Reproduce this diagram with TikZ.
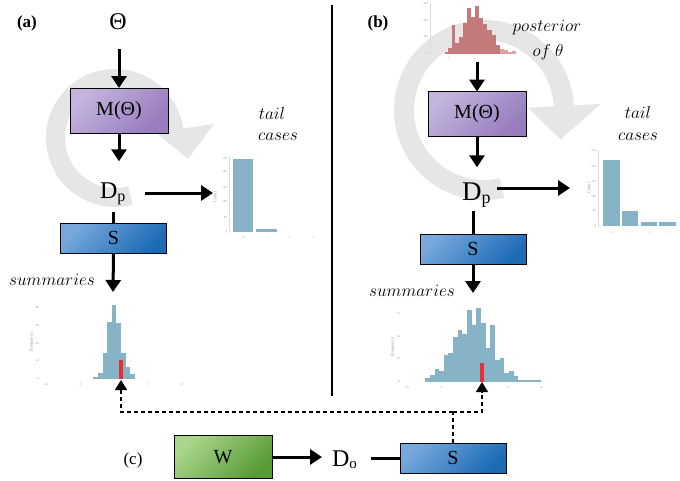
\documentclass[tikz,border=0pt]{standalone}
\usepackage{fontspec}
\setmainfont{Liberation Serif}
\usetikzlibrary{arrows.meta}
\definecolor{mlight}{HTML}{C4B4DE}
\definecolor{mdark}{HTML}{987CBD}
\definecolor{slight}{HTML}{78A8DC}
\definecolor{sdark}{HTML}{1C6BB5}
\definecolor{wlight}{HTML}{AAD58D}
\definecolor{wdark}{HTML}{579C35}
\definecolor{barblue}{HTML}{86B4C6}
\definecolor{redbar}{HTML}{E8303A}
\definecolor{ringgray}{HTML}{E6E6E6}
\definecolor{postdark}{HTML}{C47A7A}
\definecolor{postlight}{HTML}{DCA2A2}
\definecolor{ticklab}{HTML}{999999}
\definecolor{axisgray}{HTML}{DDDDDD}
\begin{document}
\begin{tikzpicture}[x=1pt,y=-1pt,
  box/.style={draw=black,line width=0.9pt,inner sep=0pt,outer sep=0pt},
  mbox/.style={box,top color=mlight,bottom color=mdark,shading angle=45,minimum width=98pt,minimum height=45pt,font=\fontsize{20}{20}\selectfont},
  sbox/.style={box,top color=slight,bottom color=sdark,shading angle=45,minimum width=106pt,minimum height=30pt,font=\fontsize{20}{20}\selectfont},
  wbox/.style={box,top color=wlight,bottom color=wdark,shading angle=45,minimum width=98pt,minimum height=43pt,font=\fontsize{20}{20}\selectfont},
  arr/.style={line width=3pt,-{Triangle[width=15pt,length=12pt]}},
  plainline/.style={line width=3pt},
  dsh/.style={line width=1.6pt,dash pattern=on 4pt off 3pt},
  dtip/.style={-{Triangle[width=12pt,length=10pt]}},
  lbl/.style={inner sep=0pt,font=\fontsize{17}{17}\selectfont\bfseries},
  clbl/.style={inner sep=0pt,font=\fontsize{17}{17}\selectfont},
  mlab/.style={inner sep=0pt,font=\fontsize{17}{17}\selectfont},
  txt/.style={inner sep=0pt,outer sep=0pt},
  tk/.style={inner sep=0pt,text=ticklab,font=\fontsize{3}{3}\selectfont},
  tkl/.style={inner sep=0pt,text=ticklab,font=\fontsize{4.5}{4.5}\selectfont,rotate=90},
]
\useasboundingbox (0,0) rectangle (680,480);

% ---------- grey cycle arrows ----------
\begin{scope}[shift={(115,138)},y=1pt]
\fill[ringgray] (285:69) arc[start angle=285,end angle=8,radius=69] -- (8:100) -- (-16:76) -- (8:41) -- (8:50) arc[start angle=8,end angle=285,radius=50] -- cycle;
\end{scope}
\begin{scope}[shift={(484,110)},y=1pt]
\fill[ringgray] (283:90) arc[start angle=283,end angle=3,radius=90] -- (3:117) -- (-21:82) -- (3:44) -- (3:70) arc[start angle=3,end angle=283,radius=70] -- cycle;
\end{scope}

% ---------- separator ----------
\coordinate (sepT) at (332,5);
\coordinate (sepB) at (332,396);
\draw[line width=1.3pt] (sepT) -- (sepB);

% ---------- (a) ----------
\node[lbl] (la) at (27,23) {(a)};
\node[txt,font=\fontsize{24}{24}\selectfont] (tha) at (118,22) {Θ};
\node[mbox] (ma) at (119,110.5) {M(Θ)};
\node[txt,anchor=base west,font=\fontsize{24}{24}\selectfont] (dpa) at (100,198) {D\raisebox{-3pt}{\fontsize{16}{16}\selectfont p}};
\node[sbox] (sa) at (113.5,238) {S};
\coordinate (tla) at (213,193);
\coordinate (suma) at (113,292);
\draw[arr,shorten <=19pt] (tha.south -| ma.north) -- (ma.north);
\draw[arr,shorten >=21pt] (ma.south) -- (ma.south |- dpa.north);
\draw[arr] (dpa.east |- tla) ++(20,0) -- (tla);
\draw[plainline,shorten <=8pt] (dpa.south -| sa.north) -- (sa.north);
\draw[arr] (sa.south) -- (suma);
\node[mlab] (suml) at (52,280) {$summaries$};
\node[mlab] (taila) at (272,113) {$tail$};
\node[mlab] (casea) at (278,137) {$cases$};

% tail histogram (a)
\draw[axisgray,line width=0.3pt] (229,157) -- (229,233);
\foreach \v/\yy in {0/232,50/218,100/202,150/188,200/172,250/159}
  \node[tk,anchor=east] at (227,\yy) {\v};
\node[tkl] (cnta) at (215,197) {Count};
\foreach \v/\xx in {0/243,1/267,2/289,3/313}
  \node[tk] at (\xx,238) {\v};
\fill[barblue] (233,159) rectangle (253,232);
\fill[barblue] (256,229) rectangle (277,232);

% summary histogram (a)
\foreach \a/\b/\t in {93/98/377,98/103/373,103/107/353,107/112/322,112/116/305,116/121/323,121/126/353,126/130/367,130/135/374}
  \fill[barblue] (\a,\t) rectangle (\b,379);
\fill[redbar] (119,360) rectangle (123,379);
\foreach \v/\yy in {0/379,20/361,40/344,60/326,80/308}
  \node[tk,anchor=east] at (39,\yy) {\v};
\node[tkl] (freqa) at (32,342) {Frequency};
\foreach \v/\xx in {-10/46,-5/80,0/114,5/148,10/181}
  \node[tk] at (\xx,385) {\v};

% ---------- (b) ----------
\node[lbl] (lb) at (378,23) {(b)};
% posterior histogram
\draw[axisgray,line width=0.3pt] (430,3) -- (430,55);
\foreach \v/\yy in {0/54,100/37,200/21,300/4}
  \node[tk,anchor=east] at (428,\yy) {\v};
\foreach \v/\xx in {-5/448,0/475,5/502}
  \node[tk] at (\xx,59) {\v};
\foreach \a/\b/\t in {445/448.3/51.7,448.3/451.7/48.3,451.7/455/25,455/459.3/43.3,459.3/463.3/36.7,463.3/467.3/23.3,467.3/471/8.3,471/475/16.7,475/479/6,479/483.3/18.3,483.3/487.3/24,487.3/491.7/30,491.7/496/35,496/500/45}
  \fill[postdark] (\a,\t) rectangle (\b,54);
\foreach \a/\b/\t in {500/504.3/49.3,504.3/508.3/50,508.3/512.3/51.7,512.3/516/51}
  \fill[postlight] (\a,\t) rectangle (\b,54);
\fill[white,opacity=0.3] (447,54) arc[start angle=180,end angle=0,x radius=26.5,y radius=10] -- cycle;
\coordinate (postb) at (477,62);
\node[mlab] (postl) at (547,28) {$posterior$};
\node[mlab] (ofth) at (548,52) {$of\ \theta$};

\node[mbox] (mb) at (477,114) {M(Θ)};
\node[txt,anchor=base west,font=\fontsize{27}{27}\selectfont] (dpb) at (462,200) {D\raisebox{-3pt}{\fontsize{18}{18}\selectfont p}};
\node[sbox] (sb) at (473,249) {S};
\coordinate (tlb) at (570,188);
\coordinate (sumb) at (473,293);
\draw[arr] (postb) -- (mb.north);
\draw[arr,shorten >=15pt] (mb.south) -- (mb.south |- dpb.north);
\draw[arr] (dpb.east |- tlb) ++(6,0) -- (tlb);
\draw[plainline,shorten <=4pt] (dpb.south -| sb.north) -- (sb.north);
\draw[arr] (sb.south) -- (sumb);
\node[mlab] (sumlb) at (412,291) {$summaries$};
\node[mlab] (tailb) at (638,112) {$tail$};
\node[mlab] (caseb) at (638,137) {$cases$};

% tail histogram (b)
\draw[axisgray,line width=0.3pt] (598,150) -- (598,227);
\foreach \v/\yy in {0/226,50/211,100/197,150/182,200/167,250/151}
  \node[tk,anchor=east] at (596,\yy) {\v};
\node[tkl] (cntb) at (589,188) {Count};
\foreach \v/\xx in {0/611,1/630,2/649,3/667}
  \node[tk] at (\xx,233) {\v};
\fill[barblue] (603,160) rectangle (620,226);
\fill[barblue] (622,211) rectangle (638,226);
\fill[barblue] (641,222) rectangle (657,226);
\fill[barblue] (659,222) rectangle (676,226);

% summary histogram (b)
\foreach \a/\b/\t in {425/430/378,430/435/375,435/439/369,439/444/371,444/448.3/355,448.3/453/353,453/457.7/337,457.7/462.3/330,462.3/467/334,467/471.7/310,471.7/476.3/325,476.3/481/308,481/485.7/323,485.7/490.3/348,490.3/495/325,495/499.7/360,499.7/504.3/358,504.3/509/373,509/513.7/371,513.7/518.3/376,518.3/541/380}
  \fill[barblue] (\a,\t) rectangle (\b,382);
\fill[redbar] (480,363) rectangle (484,382);
\foreach \v/\yy in {0/382,10/359,20/337,30/314}
  \node[tk,anchor=east] at (400,\yy) {\v};
\node[tkl] (freqb) at (393,347) {Frequency};
\foreach \v/\xx in {-10/407,-5/441,0/474,5/508,10/541}
  \node[tk] at (\xx,388) {\v};

% ---------- (c) ----------
\node[clbl] (lc) at (133,460) {(c)};
\node[wbox] (w) at (223,457) {W};
\node[txt,anchor=base west,font=\fontsize{24}{24}\selectfont] (dpo) at (332,466) {D\raisebox{-2pt}{\fontsize{15}{15}\selectfont o}};
\node[sbox] (sc) at (453,458) {S};
\draw[arr,shorten >=10pt] (w.east) -- (w.east -| dpo.west);
\draw[plainline,shorten <=14pt] (sc.west -| dpo.east) -- (sc.west);

% dashed feedback
\coordinate (jn) at (453,412);
\coordinate (redA) at (121,380);
\coordinate (redB) at (482,382);
\draw[dsh] (sc.north) -- (jn);
\draw[dsh,dtip] (jn) -| (redA);
\draw[dsh,dtip] (jn) -| (redB);
\end{tikzpicture}
\end{document}
